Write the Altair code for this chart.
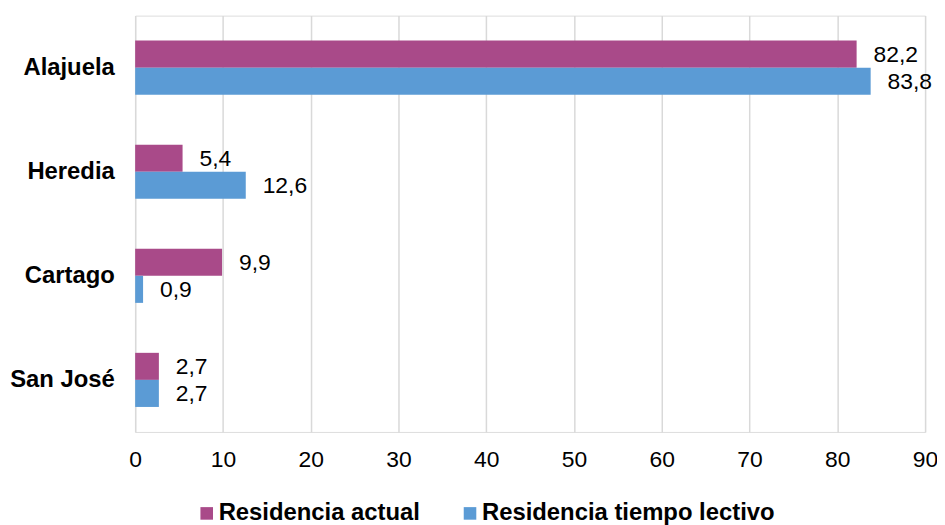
import altair as alt
import pandas as pd

categories = ["Alajuela", "Heredia", "Cartago", "San José"]
series = ["Residencia actual", "Residencia tiempo lectivo"]
actual = [82.2, 5.4, 9.9, 2.7]
lectivo = [83.8, 12.6, 0.9, 2.7]
colors = ["#A94A89", "#5B9BD5"]
x_ticks = [0, 10, 20, 30, 40, 50, 60, 70, 80, 90]

rows = []
for cat, a, b in zip(categories, actual, lectivo):
    for s, v in zip(series, [a, b]):
        rows.append({"categoria": cat, "serie": s, "valor": v,
                     "etiqueta": f"{v:.1f}".replace(".", ",")})
df = pd.DataFrame(rows)

FONT = "Liberation Sans"

base = alt.Chart(df).encode(
    y=alt.Y("categoria:N", sort=categories, title=None,
            scale=alt.Scale(paddingInner=0.48, paddingOuter=0.24),
            axis=alt.Axis(domain=False, ticks=False, labelFontWeight="bold",
                          labelFontSize=24, labelColor="#000000", labelPadding=21,
                          labelFont=FONT)),
    yOffset=alt.YOffset("serie:N", sort=series),
)

bars = base.mark_bar().encode(
    x=alt.X("valor:Q", title=None,
            scale=alt.Scale(domain=[0, 90], nice=False),
            axis=alt.Axis(values=x_ticks, domain=False, ticks=False, grid=True,
                          gridColor="#D9D9D9", gridWidth=1.5, labelFontSize=23,
                          labelColor="#000000", labelPadding=17, labelFont=FONT,
                          labelFlush=False)),
    color=alt.Color("serie:N", sort=series,
                    scale=alt.Scale(domain=series, range=colors),
                    legend=alt.Legend(title=None, orient="none", direction="horizontal",
                                      legendX=60, legendY=489, symbolType="square",
                                      symbolSize=160, symbolStrokeWidth=0,
                                      labelFontSize=24, labelFontWeight="bold",
                                      labelColor="#000000", labelFont=FONT,
                                      labelOffset=0, columnPadding=38, padding=0,
                                      labelLimit=400)),
)

labels = base.mark_text(align="left", baseline="middle", dx=17, dy=1,
                        fontSize=23, font=FONT, color="#000000").encode(
    x=alt.X("valor:Q"),
    text="etiqueta:N",
)

chart = (bars + labels).properties(
    width=795, height=419,
    autosize=alt.AutoSizeParams(type="none"),
    padding={"left": 128, "top": 6, "right": 12, "bottom": 92},
).configure_view(stroke=None).configure(font=FONT)

chart.save("out.html", embed_options={"renderer": "svg", "actions": False})
